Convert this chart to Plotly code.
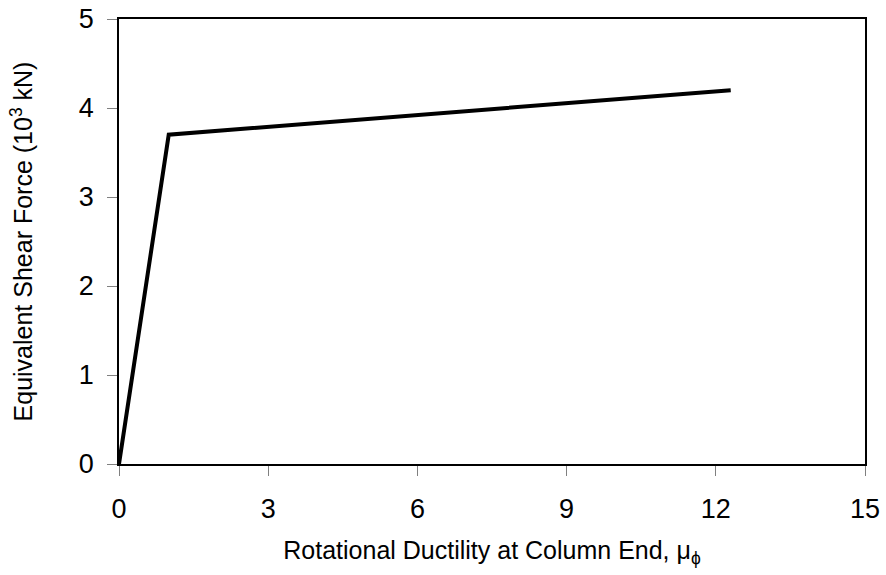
import plotly.graph_objects as go

ductility = [0, 1.0, 12.3]
shear_force = [0, 3.7, 4.2]
x_ticks = [0, 3, 6, 9, 12, 15]
y_ticks = [0, 1, 2, 3, 4, 5]

fig = go.Figure()
fig.add_trace(go.Scatter(x=ductility, y=shear_force, mode="lines",
                         line=dict(color="black", width=4), showlegend=False))

font_family = "Liberation Sans, Arial, sans-serif"
fig.update_layout(
    width=886, height=575,
    margin=dict(l=119, r=21, t=19, b=111),
    plot_bgcolor="white", paper_bgcolor="white",
    font=dict(family=font_family, color="black"),
    xaxis=dict(range=[0, 15], tickvals=x_ticks, ticks="outside", ticklen=10,
               tickcolor="#808080", tickwidth=1, showgrid=False, zeroline=False,
               showline=True, linecolor="black", linewidth=1.5, mirror=True,
               automargin=False,
               tickfont=dict(size=27), ticklabelstandoff=10,
               title=dict(text="Rotational Ductility at Column End, μ<sub>ϕ</sub>",
                          font=dict(size=25), standoff=18)),
    yaxis=dict(range=[0, 5], tickvals=y_ticks, ticks="outside", ticklen=10,
               tickcolor="#808080", tickwidth=1, showgrid=False, zeroline=False,
               showline=True, linecolor="black", linewidth=1.5, mirror=True,
               automargin=False,
               tickfont=dict(size=27), ticklabelstandoff=8,
               title=dict(text="Equivalent Shear Force (10<sup>3</sup> kN)",
                          font=dict(size=25), standoff=39)),
)
fig.write_html("out.html")
